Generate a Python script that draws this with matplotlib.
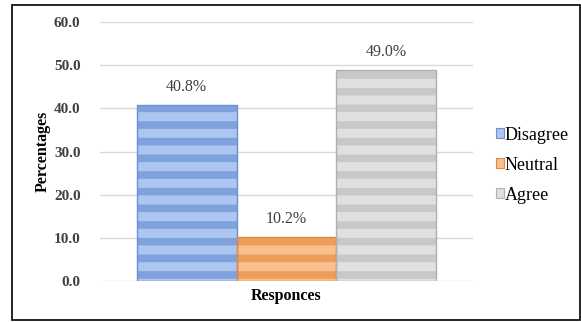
import matplotlib
matplotlib.use("Agg")
import matplotlib.pyplot as plt
from matplotlib.patches import Rectangle

categories = ["Disagree", "Neutral", "Agree"]
values = [40.8, 10.2, 49.0]
labels = ["40.8%", "10.2%", "49.0%"]
yticks = [0, 10, 20, 30, 40, 50, 60]

face_colors = ["#ADC6EF", "#F8C08E", "#E0E0E0"]
stripe_colors = ["#7FA1DC", "#EE9C5A", "#C8C8C8"]
edge_colors = ["#6F90CF", "#E08A45", "#AFAFAF"]

plt.rcParams["font.family"] = ["Liberation Serif", "DejaVu Serif"]
plt.rcParams["hatch.linewidth"] = 5.5

fig = plt.figure(figsize=(5.81, 3.22), dpi=100)
ax = fig.add_axes([0.1721, 0.1273, 0.642, 0.8043])

w = 0.268
handles = []
for i, (c, v) in enumerate(zip(categories, values)):
    x = (i - 1) * w
    ax.bar(x, v, width=w, color=face_colors[i], edgecolor=stripe_colors[i],
           linewidth=0, hatch="-", zorder=3)
    ax.bar(x, v, width=w, facecolor="none", edgecolor=edge_colors[i],
           linewidth=1.0, zorder=4)
    proxy = Rectangle((0, 0), 1, 1, facecolor=face_colors[i], edgecolor=edge_colors[i], linewidth=0.8)
    handles.append(proxy)
    ax.text(x, v + 2.2, labels[i], ha="center", va="bottom", fontsize=11.5, color="#404040")

ax.set_xlim(-0.5, 0.5)
ax.set_ylim(0, 60)
ax.set_yticks(yticks)
ax.set_yticklabels([f"{t:.1f}" for t in yticks], fontsize=11, fontweight="bold", color="#404040")
ax.set_xticks([])
ax.tick_params(axis="y", length=0, pad=14)
ax.grid(axis="y", color="#D9D9D9", linewidth=1.0, zorder=0)
for s in ax.spines.values():
    s.set_visible(False)
ax.set_ylabel("Percentages", fontsize=11.5, fontweight="bold", labelpad=2)
ax.set_xlabel("Responces", fontsize=11.5, fontweight="bold", labelpad=5)

fig.legend(handles, categories, loc="center left", bbox_to_anchor=(0.841, 0.487),
           frameon=False, fontsize=13, handlelength=0.45, handleheight=0.45,
           handletextpad=0.05, labelspacing=0.72, borderaxespad=0)

fig.patches.append(Rectangle((12 / 581, 1 - 320 / 322), 568 / 581, 315 / 322,
                             transform=fig.transFigure, fill=False,
                             edgecolor="black", linewidth=1.2))

fig.savefig("out.png", dpi=100)
